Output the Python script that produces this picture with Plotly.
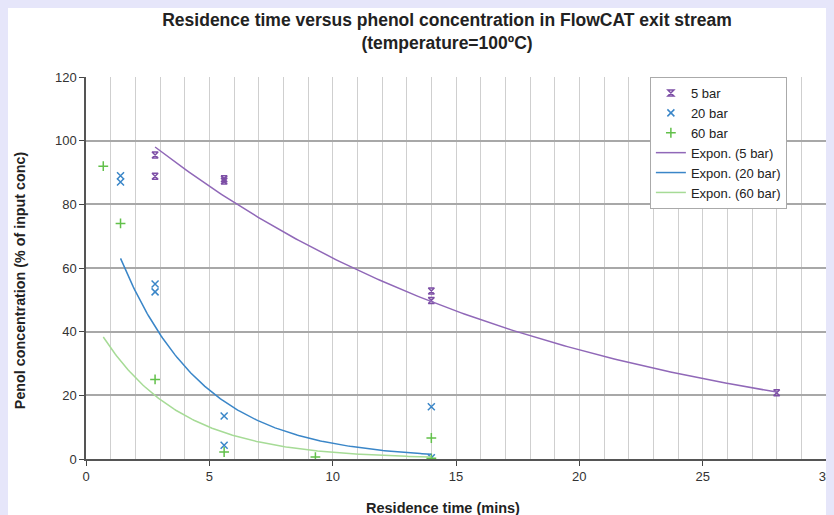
import numpy as np
import plotly.graph_objects as go

# ---- data ----
x_5bar = [2.8, 2.8, 5.6, 5.6, 14, 14, 28]
y_5bar = [95.5, 88.8, 88.0, 87.3, 52.8, 49.8, 20.8]

x_20bar = [1.4, 1.4, 2.8, 2.8, 5.6, 5.6, 14, 14]
y_20bar = [89.0, 87.0, 55.0, 52.5, 13.5, 4.3, 16.4, 0.4]

x_60bar = [0.7, 1.4, 2.8, 5.6, 9.3, 14, 14]
y_60bar = [92.0, 74.0, 25.0, 2.2, 0.6, 6.6, 0.2]

# exponential trendlines y = a*exp(-b*x), with x range
trend_5bar = dict(a=116.3, b=0.0611, x0=2.8, x1=28)
trend_20bar = dict(a=95.5, b=0.297, x0=1.4, x1=14)
trend_60bar = dict(a=47.7, b=0.312, x0=0.7, x1=14)

x_ticks = [0, 5, 10, 15, 20, 25, 30]
y_ticks = [0, 20, 40, 60, 80, 100, 120]

PURPLE = "#7d4fa6"
PURPLE_L = "#9068b8"
BLUE = "#3a86c8"
GREEN = "#62c04a"
GREEN_L = "#a6db96"


def trend(p):
    xs = np.linspace(p["x0"], p["x1"], 200)
    return xs, p["a"] * np.exp(-p["b"] * xs)


fig = go.Figure()
fig.add_trace(go.Scatter(x=x_5bar, y=y_5bar, mode="markers", name="5 bar",
                         marker=dict(symbol="hourglass-open", size=6, color=PURPLE,
                                     line=dict(width=1.5, color=PURPLE))))
fig.add_trace(go.Scatter(x=x_20bar, y=y_20bar, mode="markers", name="20 bar",
                         marker=dict(symbol="x-thin-open", size=7, color=BLUE,
                                     line=dict(width=1.5, color=BLUE))))
fig.add_trace(go.Scatter(x=x_60bar, y=y_60bar, mode="markers", name="60 bar",
                         marker=dict(symbol="cross-thin-open", size=7, color=GREEN,
                                     line=dict(width=1.5, color=GREEN))))
for p, nm, col in [(trend_5bar, "Expon. (5 bar)", PURPLE_L),
                   (trend_20bar, "Expon. (20 bar)", BLUE),
                   (trend_60bar, "Expon. (60 bar)", GREEN_L)]:
    xs, ys = trend(p)
    fig.add_trace(go.Scatter(x=xs, y=ys, mode="lines", name=nm,
                             line=dict(color=col, width=1.5)))

FONT = "Liberation Sans, Arial, sans-serif"

fig.update_layout(
    width=826, height=507,
    margin=dict(l=78, r=8, t=69, b=56, autoexpand=False),
    paper_bgcolor="white",
    plot_bgcolor="white",
    font=dict(family=FONT, size=13, color="#333"),
    title=dict(text="<b>Residence time versus phenol concentration in FlowCAT exit stream<br>(temperature=100ºC)</b>",
               x=0.5315, xanchor="center", xref="container",
               y=0.9645, yanchor="top",
               font=dict(size=17.5, color="#222", family=FONT)),
    showlegend=True,
    legend=dict(x=0.762, y=1.0, xanchor="left", yanchor="top",
                bgcolor="white", bordercolor="#aaa", borderwidth=1,
                font=dict(size=13, color="#222"), tracegroupgap=0,
                itemwidth=30),
    annotations=[
        dict(text="<b>Residence time (mins)</b>", xref="paper", yref="paper",
             x=0.482, y=-0.128, xanchor="center", yanchor="middle", showarrow=False,
             font=dict(size=14.5, color="#222")),
        dict(text="<b>Penol concentration (% of input conc)</b>", xref="paper", yref="paper",
             x=-0.089, y=(451 - 272) / 382, xanchor="center", yanchor="middle", showarrow=False,
             textangle=-90, font=dict(size=14.3, color="#222")),
    ],
)

fig.update_xaxes(
    range=[0, 30], tickvals=x_ticks, ticktext=[str(v) for v in x_ticks],
    showgrid=True, gridcolor="#cfcfcf", gridwidth=1,
    minor=dict(dtick=1, showgrid=True, gridcolor="#cfcfcf", gridwidth=1),
    ticks="outside", ticklen=5, tickcolor="#444",
    showline=True, linecolor="#555", linewidth=1.5,
    zeroline=False, automargin=False, ticklabeloverflow="allow",
    tickfont=dict(size=13, color="#333"),
)
fig.update_yaxes(
    range=[0, 120], tickvals=y_ticks, ticktext=[str(v) for v in y_ticks],
    showgrid=True, gridcolor="#a8a8a8", gridwidth=1.5,
    ticks="outside", ticklen=5, tickcolor="#444",
    showline=True, linecolor="#555", linewidth=1.5,
    zeroline=False, automargin=False,
    tickfont=dict(size=13, color="#333"),
)

fig.write_html("out.html",
               post_script="document.body.style.background='#e6e6fa';"
                           "document.body.style.overflow='hidden';")
